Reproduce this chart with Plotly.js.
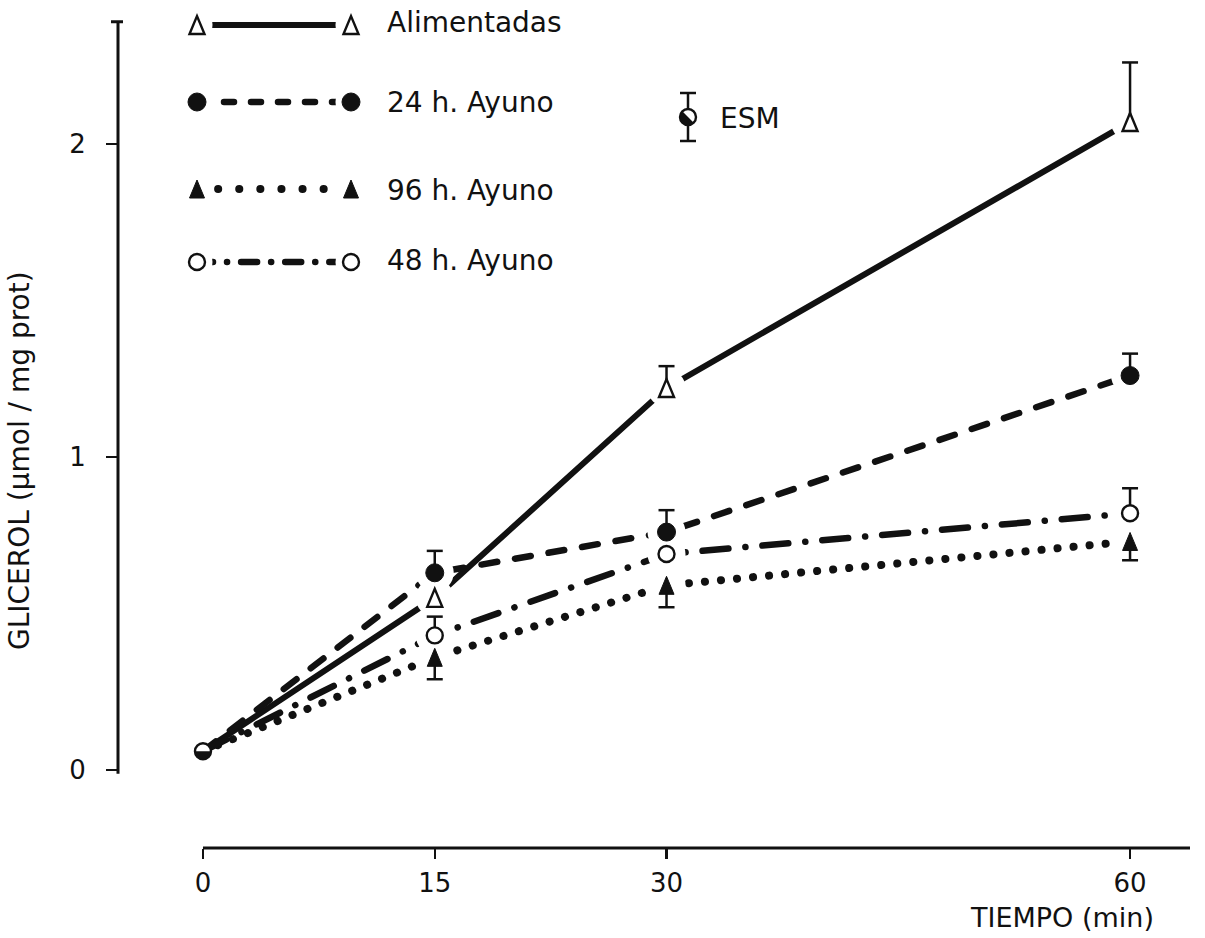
<!DOCTYPE html>
<html>
<head>
<meta charset="utf-8">
<script src="https://cdn.plot.ly/plotly-3.0.1.min.js"></script>
<style>
  html, body { margin: 0; padding: 0; background: #fff; }
  #chart { width: 1205px; height: 938px; }
  /* round line ends so that dotted / dashed series get rounded dots and dashes */
  #chart path.js-line { stroke-linecap: round; }
</style>
</head>
<body>
<div id="chart"></div>
<script>
// ---- data ---------------------------------------------------------------
const tiempo = [0, 15, 30, 60];               // min
const xTickVals = [0, 15, 30, 60];
const yTickVals = [0, 1, 2];

const seriesNames = ['Alimentadas', '24 h. Ayuno', '96 h. Ayuno', '48 h. Ayuno'];

// glicerol, µmol / mg prot
const alimentadas = [0.06, 0.55, 1.22, 2.07];
const ayuno24     = [0.06, 0.63, 0.76, 1.26];
const ayuno96     = [0.06, 0.36, 0.59, 0.73];
const ayuno48     = [0.06, 0.43, 0.69, 0.82];

// ESM (one-sided bars; 0 = no bar drawn)
const esmAlimentadas = [0, 0, 0.07, 0.19];
const esm24          = [0, 0.07, 0.07, 0.07];
const esm96          = [0, 0.07, 0.07, 0.06];
const esm48          = [0, 0.06, 0, 0.08];

// ---- layout constants ---------------------------------------------------
const W = 1205, H = 938;
const M = { l: 118, r: 15, t: 4, b: 90 };
const X_RANGE = [-5.5, 63.88];
const Y_RANGE = [-0.249, 2.4467];
const Y_AXIS_TOP = 2.39;            // where the drawn y axis ends
const PX_X = [M.l, W - M.r];        // overlay axes in page pixels (key area)
const PX_Y = [H - M.b, M.t];
const FONT = 'DejaVu Sans, Verdana, sans-serif';
const INK = '#111';

const LEGEND = { xStart: 197, xEnd: 351, textX: 385, rows: [25, 102, 189, 262], textRows: [23, 103, 190, 261] };
const ESM_KEY = { x: 688, y: 117, bar: 24, textX: 718 };
const CAP = 8;          // half width of the bar caps, px

const values = [alimentadas, ayuno24, ayuno96, ayuno48];
const errors = [esmAlimentadas, esm24, esm96, esm48];

const styles = [
  { dash: 'solid',                keyDash: 'solid',                width: 6,   symbol: 'triangle', open: true,  dir: 1  },
  { dash: '16px,18px',            keyDash: '10px,17px',            width: 6.5, symbol: 'circle',   open: false, dir: 1  },
  { dash: '0.1px,16px',           keyDash: '0.1px,21px',           width: 8,   symbol: 'triangle', open: false, dir: -1 },
  { dash: '26px,17px,0.1px,17px', keyDash: '16px,14px,0.1px,14px', width: 6.5, symbol: 'circle',   open: true,  dir: 1  }
];

function px2paperX(px) { return (px - M.l) / (W - M.l - M.r); }
function px2paperY(py) { return (H - M.b - py) / (H - M.t - M.b); }

// half disc (pixel units, y up) from angle a0 to a0+180 degrees
function halfDiskPath(r, a0) {
  const k = 0.5523 * r;
  const pts = [];
  for (let j = 0; j <= 2; j++) {
    const a = (a0 + 90 * j) * Math.PI / 180;
    pts.push([Math.cos(a), Math.sin(a)]);
  }
  const f = v => v.toFixed(2);
  let d = 'M' + f(r * pts[0][0]) + ',' + f(r * pts[0][1]);
  for (let j = 0; j < 2; j++) {
    const [c0, s0] = pts[j], [c1, s1] = pts[j + 1];
    d += 'C' + f(r * c0 - k * s0) + ',' + f(r * s0 + k * c0) + ' ' +
         f(r * c1 + k * s1) + ',' + f(r * s1 - k * c1) + ' ' +
         f(r * c1) + ',' + f(r * s1);
  }
  return d + 'Z';
}

// symbol drawn as a pixel-sized shape anchored at (x, y) on the given axes
function symbolShape(st, x, y, xref, yref) {
  const base = { xref: xref, yref: yref, xsizemode: 'pixel', ysizemode: 'pixel', xanchor: x, yanchor: y };
  const fill = st.open ? '#fff' : INK;
  const line = { color: INK, width: st.open ? 2.4 : 1 };
  if (st.symbol === 'circle') {
    const r = st.open ? 8 : 9;
    return Object.assign(base, { type: 'circle', x0: -r, x1: r, y0: -r, y1: r, fillcolor: fill, line: line });
  }
  return Object.assign(base, { type: 'path', path: 'M-7.5,-9L7.5,-9L0,9Z', fillcolor: fill, line: line });
}

// one-sided bar: stem from the mean to mean ± ESM, plus a cap
function barShapes(x, y, e, xref, yref) {
  return [
    { type: 'line', xref: xref, yref: yref, x0: x, x1: x, y0: y, y1: y + e, line: { color: INK, width: 2.5 } },
    { type: 'line', xref: xref, yref: yref, xsizemode: 'pixel', xanchor: x, x0: -CAP, x1: CAP,
      y0: y + e, y1: y + e, line: { color: INK, width: 2.5 } }
  ];
}

// ---- traces -------------------------------------------------------------
// Lines on x/y; white halos on the x3/y3 overlay (same scales) open a gap
// in the lines around each symbol.
const traces = [];

values.forEach((v, i) => {
  traces.push({
    x: tiempo, y: v, mode: 'lines', type: 'scatter', hoverinfo: 'skip',
    line: { color: INK, width: styles[i].width, dash: styles[i].dash },
    cliponaxis: false
  });
});

values.forEach(v => {
  traces.push({
    x: tiempo.slice(1), y: v.slice(1), xaxis: 'x3', yaxis: 'y3',
    mode: 'markers', type: 'scatter', hoverinfo: 'skip', cliponaxis: false,
    marker: { symbol: 'circle', size: 38, color: '#fff', line: { width: 0 } }
  });
});

// key lines and their halos (page-pixel overlay axes)
styles.forEach((st, i) => {
  const y = LEGEND.rows[i];
  traces.push({
    x: [LEGEND.xStart, LEGEND.xEnd], y: [y, y], xaxis: 'x2', yaxis: 'y2',
    mode: 'lines', type: 'scatter', hoverinfo: 'skip', cliponaxis: false,
    line: { color: INK, width: st.width, dash: st.keyDash }
  });
});
styles.forEach((st, i) => {
  const y = LEGEND.rows[i];
  traces.push({
    x: [LEGEND.xStart, LEGEND.xEnd], y: [y, y], xaxis: 'x4', yaxis: 'y4',
    mode: 'markers', type: 'scatter', hoverinfo: 'skip', cliponaxis: false,
    marker: { symbol: 'circle', size: 31, color: '#fff', line: { width: 0 } }
  });
});

// ---- shapes -------------------------------------------------------------
const shapes = [
  // y axis line and its top end mark
  { type: 'line', xref: 'paper', yref: 'y', x0: 0, x1: 0, y0: -0.012, y1: Y_AXIS_TOP,
    line: { color: INK, width: 3 } },
  { type: 'line', xref: 'paper', yref: 'y', xsizemode: 'pixel', xanchor: 0,
    x0: -7, x1: 5, y0: Y_AXIS_TOP, y1: Y_AXIS_TOP, line: { color: INK, width: 3 } },
  // x axis line from time 0 to the right edge
  { type: 'line', xref: 'x', yref: 'paper', x0: 0, x1: X_RANGE[1], y0: 0, y1: 0,
    line: { color: INK, width: 3 } }
];

// ESM bars first, symbols on top
values.forEach((v, i) => {
  for (let j = 1; j < tiempo.length; j++) {
    if (errors[i][j] > 0) shapes.push(...barShapes(tiempo[j], v[j], styles[i].dir * errors[i][j], 'x', 'y'));
  }
});
values.forEach((v, i) => {
  for (let j = 1; j < tiempo.length; j++) shapes.push(symbolShape(styles[i], tiempo[j], v[j], 'x', 'y'));
});

// common starting point: open circle, lower half filled
shapes.push(symbolShape({ symbol: 'circle', open: true }, tiempo[0], alimentadas[0], 'x', 'y'));
shapes.push({ type: 'path', xref: 'x', yref: 'y', xsizemode: 'pixel', ysizemode: 'pixel',
  xanchor: tiempo[0], yanchor: alimentadas[0], path: halfDiskPath(8.5, 180),
  fillcolor: INK, line: { width: 0 } });

// key symbols
styles.forEach((st, i) => {
  shapes.push(symbolShape(st, LEGEND.xStart, LEGEND.rows[i], 'x2', 'y2'));
  shapes.push(symbolShape(st, LEGEND.xEnd, LEGEND.rows[i], 'x2', 'y2'));
});

// ESM key: two-sided bar, open circle with the lower-left half filled
shapes.push(...barShapes(ESM_KEY.x, ESM_KEY.y, ESM_KEY.bar, 'x2', 'y2'));
shapes.push(...barShapes(ESM_KEY.x, ESM_KEY.y, -ESM_KEY.bar, 'x2', 'y2'));
shapes.push({ type: 'circle', xref: 'x2', yref: 'y2', xsizemode: 'pixel', ysizemode: 'pixel',
  xanchor: ESM_KEY.x, yanchor: ESM_KEY.y, x0: -8, x1: 8, y0: -8, y1: 8,
  fillcolor: '#fff', line: { color: INK, width: 2.4 } });
shapes.push({ type: 'path', xref: 'x2', yref: 'y2', xsizemode: 'pixel', ysizemode: 'pixel',
  xanchor: ESM_KEY.x, yanchor: ESM_KEY.y, path: halfDiskPath(8, 135),
  fillcolor: INK, line: { width: 0 } });

// ---- text ---------------------------------------------------------------
const annotations = [];
seriesNames.forEach((name, i) => {
  annotations.push({
    xref: 'paper', yref: 'paper', x: px2paperX(LEGEND.textX), y: px2paperY(LEGEND.textRows[i]),
    xanchor: 'left', yanchor: 'middle', showarrow: false, text: name,
    font: { family: FONT, size: 28, color: INK }
  });
});
annotations.push({
  xref: 'paper', yref: 'paper', x: px2paperX(ESM_KEY.textX), y: px2paperY(ESM_KEY.y + 1),
  xanchor: 'left', yanchor: 'middle', showarrow: false, text: 'ESM',
  font: { family: FONT, size: 28, color: INK }
});
annotations.push({
  xref: 'paper', yref: 'paper', x: px2paperX(19), y: px2paperY(461),
  xanchor: 'center', yanchor: 'middle', showarrow: false, textangle: -90,
  text: 'GLICEROL (μmol / mg prot)', font: { family: FONT, size: 28, color: INK }
});
annotations.push({
  xref: 'paper', yref: 'paper', x: px2paperX(1062), y: px2paperY(918),
  xanchor: 'center', yanchor: 'middle', showarrow: false,
  text: 'TIEMPO (min)', font: { family: FONT, size: 27, color: INK }
});

// ---- layout -------------------------------------------------------------
const hidden = { visible: false, fixedrange: true };
const layout = {
  width: W, height: H,
  margin: M,
  paper_bgcolor: '#fff', plot_bgcolor: '#fff',
  showlegend: false,
  font: { family: FONT, color: INK },
  xaxis: {
    range: X_RANGE, showgrid: false, zeroline: false, showline: false,
    tickmode: 'array', tickvals: xTickVals, ticktext: xTickVals.map(String),
    ticks: 'outside', ticklen: 10, tickwidth: 2.5, tickcolor: INK,
    ticklabelstandoff: 2,
    tickfont: { family: FONT, size: 26, color: INK }, fixedrange: true
  },
  yaxis: {
    range: Y_RANGE, showgrid: false, zeroline: false, showline: false,
    tickmode: 'array', tickvals: yTickVals, ticktext: yTickVals.map(String),
    ticks: 'outside', ticklen: 11, tickwidth: 2.5, tickcolor: INK,
    ticklabelstandoff: 15,
    tickfont: { family: FONT, size: 26, color: INK }, fixedrange: true
  },
  xaxis2: Object.assign({ overlaying: 'x', range: PX_X }, hidden),
  yaxis2: Object.assign({ overlaying: 'y', range: PX_Y }, hidden),
  xaxis3: Object.assign({ overlaying: 'x', range: X_RANGE }, hidden),
  yaxis3: Object.assign({ overlaying: 'y', range: Y_RANGE }, hidden),
  xaxis4: Object.assign({ overlaying: 'x', range: PX_X }, hidden),
  yaxis4: Object.assign({ overlaying: 'y', range: PX_Y }, hidden),
  shapes: shapes,
  annotations: annotations
};

Plotly.newPlot('chart', traces, layout, { staticPlot: true, displayModeBar: false });
</script>
</body>
</html>
